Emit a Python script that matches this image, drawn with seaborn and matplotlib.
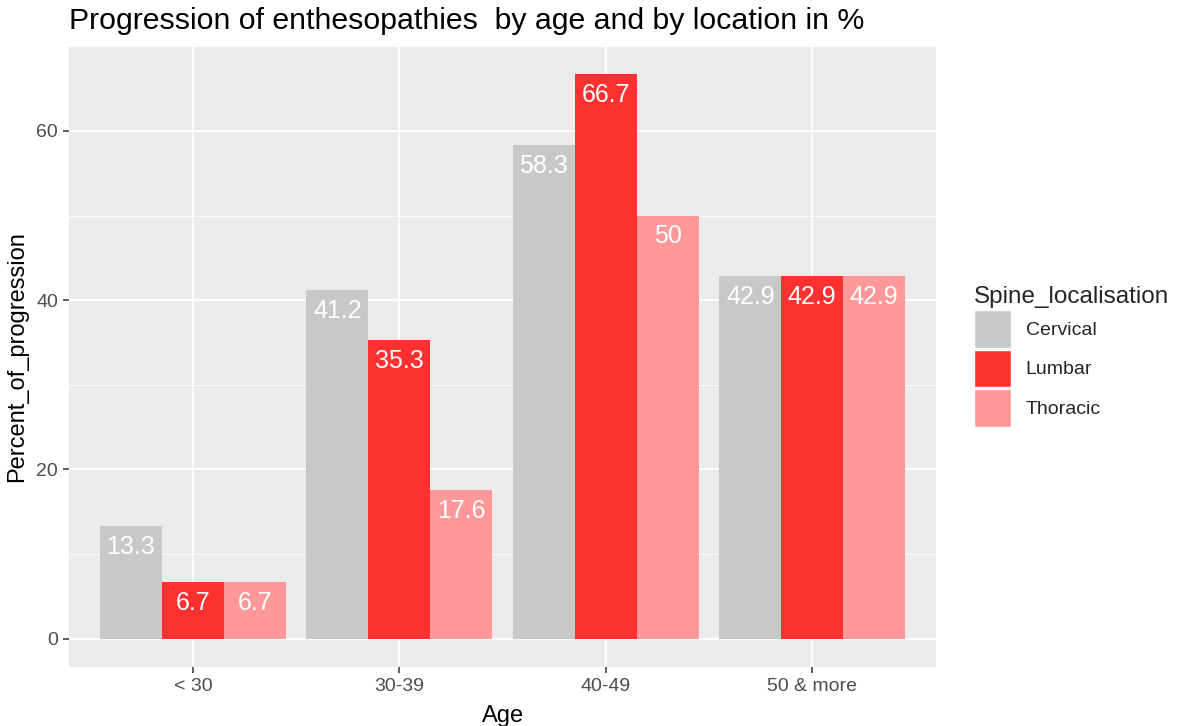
import pandas as pd
import matplotlib.pyplot as plt
import seaborn as sns
import numpy as np

# Data
ages = ['< 30', '30-39', '40-49', '50 & more']
locations = ['Cervical', 'Lumbar', 'Thoracic']
cervical = [13.3, 41.2, 58.3, 42.9]
lumbar = [6.7, 35.3, 66.7, 42.9]
thoracic = [6.7, 17.6, 50, 42.9]
colors = ['#C8C8C8', '#FF3030', '#FF9999']

df = pd.DataFrame({
    'Age': ages * 3,
    'Spine_localisation': np.repeat(locations, len(ages)),
    'Percent_of_progression': cervical + lumbar + thoracic,
})

sns.set_style('darkgrid', {'axes.facecolor': '#EBEBEB', 'grid.color': 'white'})
plt.rcParams['font.family'] = ['Liberation Sans', 'DejaVu Sans']

fig = plt.figure(figsize=(11.78, 7.26), dpi=100)
ax = fig.add_axes([0.0586, 0.0813, 0.736, 0.8553])

sns.barplot(data=df, x='Age', y='Percent_of_progression', hue='Spine_localisation',
            order=ages, hue_order=locations, palette=colors, width=0.9,
            saturation=1, ax=ax, zorder=3, linewidth=0, edgecolor='none')

# value labels inside the top of each bar
for cont, vals in zip(ax.containers, [cervical, lumbar, thoracic]):
    for bar, v in zip(cont, vals):
        ax.annotate('{:g}'.format(v), (bar.get_x() + bar.get_width() / 2, v),
                    xytext=(0, -15), textcoords='offset points',
                    ha='center', va='center', color='white', fontsize=18, zorder=5)

ax.set_ylim(-3.335, 70.035)
ax.set_xlim(-0.6, 3.6)
ax.set_yticks([0, 20, 40, 60])
ax.set_yticks([10, 30, 50, 70], minor=True)
ax.grid(which='major', color='white', linewidth=1.3, zorder=0)
ax.grid(which='minor', axis='y', color='white', linewidth=0.6, zorder=0)
ax.set_axisbelow(True)
for s in ax.spines.values():
    s.set_visible(False)
ax.tick_params(axis='both', which='major', bottom=True, left=True, length=4, width=1.1,
               color='#333333', labelcolor='#4D4D4D', labelsize=14, pad=4)
ax.tick_params(axis='y', which='minor', length=0)

ax.set_xlabel('Age', fontsize=17, labelpad=7, color='black')
ax.set_ylabel('Percent_of_progression', fontsize=17, labelpad=6, color='black')
ax.set_title('Progression of enthesopathies  by age and by location in %',
             fontsize=21.8, loc='left', pad=12, color='black')

leg = ax.legend(title='Spine_localisation', loc='center left', bbox_to_anchor=(1.024, 0.5),
                frameon=False, fontsize=14, title_fontsize=17.5, handlelength=1.9,
                handleheight=2.6, labelspacing=0.1, handletextpad=0.75)
leg._legend_box.align = 'left'
for h in leg.legend_handles:
    h.set_edgecolor('white')
    h.set_linewidth(1)

plt.savefig('out.png', dpi=100)
